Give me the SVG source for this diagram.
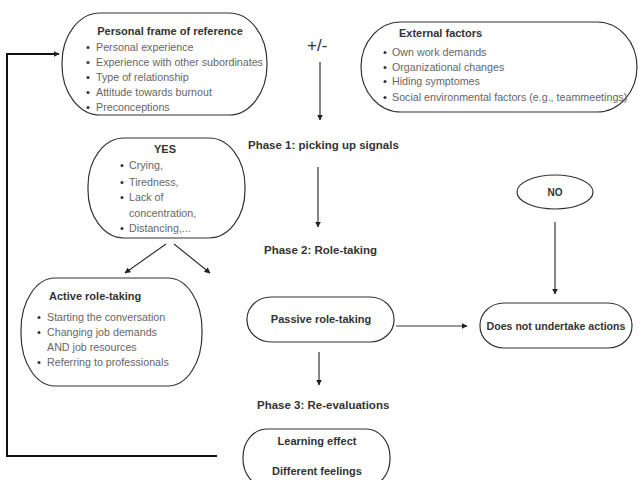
<svg xmlns="http://www.w3.org/2000/svg" width="638" height="480" viewBox="0 0 638 480">
<defs>
<marker id="ah" viewBox="0 0 10 10" refX="9" refY="5" markerWidth="6" markerHeight="6" markerUnits="userSpaceOnUse" orient="auto">
<path d="M0,0 L10,5 L0,10 z" fill="#222"/>
</marker>
<style>
.box{fill:#fff;stroke:#333;stroke-width:1.2}
.t{font-family:"Liberation Sans",Arial,sans-serif;font-weight:bold;font-size:11px;fill:#333}
.b{font-family:"Liberation Sans",Arial,sans-serif;font-size:10.7px;fill:#666}
.ph{font-family:"Liberation Sans",Arial,sans-serif;font-weight:bold;font-size:11.5px;fill:#333}
.dot{fill:#333}
.c{stroke:#333;stroke-width:1.2;fill:none;marker-end:url(#ah)}
</style>
</defs>
<rect width="638" height="480" fill="#fff"/>

<g id="connectors">
<polyline points="217,456 7,456 7,54 59,54" style="fill:none;stroke:#111;stroke-width:2;marker-end:url(#ah)"/>
<line class="c" x1="320" y1="62" x2="320" y2="120"/>
<line class="c" x1="318" y1="167" x2="318" y2="227"/>
<line class="c" x1="166" y1="244" x2="125" y2="273"/>
<line class="c" x1="174" y1="244" x2="210" y2="273"/>
<line class="c" x1="396" y1="326" x2="467" y2="326"/>
<line class="c" x1="555" y1="222" x2="555" y2="294"/>
<line class="c" x1="319" y1="352" x2="319" y2="385"/>
</g>

<g id="personal-frame">
<rect class="box" x="62" y="13" width="205" height="102" rx="38" ry="50"/>
<text class="t" x="170" y="35" text-anchor="middle">Personal frame of reference</text>
<circle class="dot" cx="88" cy="47.5" r="1.5"/><text class="b" x="96" y="51">Personal experience</text>
<circle class="dot" cx="88" cy="62.5" r="1.5"/><text class="b" x="96" y="66">Experience with other subordinates</text>
<circle class="dot" cx="88" cy="77.5" r="1.5"/><text class="b" x="96" y="81">Type of relationship</text>
<circle class="dot" cx="88" cy="92.5" r="1.5"/><text class="b" x="96" y="96">Attitude towards burnout</text>
<circle class="dot" cx="88" cy="107.5" r="1.5"/><text class="b" x="96" y="111">Preconceptions</text>
</g>

<g id="plus-minus">
<text x="307" y="51" style="font-family:'Liberation Sans',Arial,sans-serif;font-size:17px;fill:#333">+/-</text>
</g>

<g id="external-factors">
<rect class="box" x="361" y="22" width="276" height="90" rx="40" ry="45"/>
<text class="t" x="399" y="37">External factors</text>
<circle class="dot" cx="385" cy="52.5" r="1.5"/><text class="b" x="392" y="56">Own work demands</text>
<circle class="dot" cx="385" cy="67.5" r="1.5"/><text class="b" x="392" y="71">Organizational changes</text>
<circle class="dot" cx="385" cy="81.5" r="1.5"/><text class="b" x="392" y="85">Hiding symptomes</text>
<circle class="dot" cx="385" cy="97.5" r="1.5"/><text class="b" x="392" y="101">Social environmental factors (e.g., teammeetings)</text>
</g>

<g id="phase1"><text class="ph" x="248" y="149">Phase 1: picking up signals</text></g>
<g id="phase2"><text class="ph" x="264" y="254">Phase 2: Role-taking</text></g>
<g id="phase3"><text class="ph" x="257" y="409">Phase 3: Re-evaluations</text></g>

<g id="yes">
<rect class="box" x="88" y="138" width="157" height="100" rx="36" ry="48"/>
<text class="t" x="165" y="153" text-anchor="middle">YES</text>
<circle class="dot" cx="122" cy="165.5" r="1.5"/><text class="b" x="129" y="169">Crying,</text>
<circle class="dot" cx="122" cy="182.5" r="1.5"/><text class="b" x="129" y="186">Tiredness,</text>
<circle class="dot" cx="122" cy="197.5" r="1.5"/><text class="b" x="129" y="201">Lack of</text>
<text class="b" x="129" y="217">concentration,</text>
<circle class="dot" cx="122" cy="228.5" r="1.5"/><text class="b" x="129" y="232">Distancing,...</text>
</g>

<g id="no">
<ellipse class="box" cx="555" cy="192" rx="38" ry="17"/>
<text class="t" x="555" y="196" text-anchor="middle" style="font-size:10px">NO</text>
</g>

<g id="active">
<rect class="box" x="21" y="278" width="181" height="108" rx="34" ry="52"/>
<text class="t" x="49" y="300">Active role-taking</text>
<circle class="dot" cx="39" cy="317.5" r="1.5"/><text class="b" x="47" y="321">Starting the conversation</text>
<circle class="dot" cx="39" cy="332.5" r="1.5"/><text class="b" x="47" y="336">Changing job demands</text>
<text class="b" x="47" y="351">AND job resources</text>
<circle class="dot" cx="39" cy="362.5" r="1.5"/><text class="b" x="47" y="366">Referring to professionals</text>
</g>

<g id="passive">
<rect class="box" x="247" y="297" width="147" height="45" rx="24" ry="22"/>
<text class="t" x="321" y="323" text-anchor="middle">Passive role-taking</text>
</g>

<g id="no-action">
<rect class="box" x="480" y="303" width="152" height="45" rx="24" ry="22"/>
<text class="t" x="556" y="330" text-anchor="middle" style="font-size:10.6px">Does not undertake actions</text>
</g>

<g id="learning">
<rect class="box" x="243" y="429" width="147" height="58" rx="24" ry="28"/>
<text class="t" x="317" y="445" text-anchor="middle">Learning effect</text>
<text class="t" x="317" y="475" text-anchor="middle">Different feelings</text>
</g>
</svg>
